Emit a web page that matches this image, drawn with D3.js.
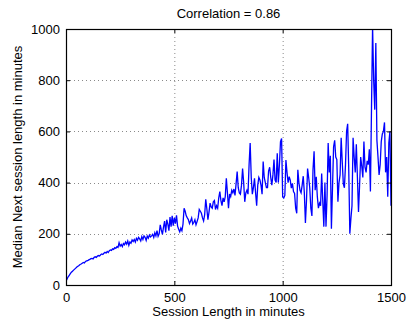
<!DOCTYPE html>
<html>
<head>
<meta charset="utf-8">
<script src="https://cdn.jsdelivr.net/npm/d3@7"></script>
<style>
  html, body { margin: 0; padding: 0; background: #fff; }
  svg { display: block; font-family: "Liberation Sans", Arial, Helvetica, sans-serif; }
</style>
</head>
<body>
<svg id="chart" width="408" height="325"></svg>
<script>
// Session length (minutes), sampled every 5 minutes from 0 to 1500
const sessionLength = d3.range(0, 1501, 5);

// Median length of the next session (minutes), one value per sample above
const medianNext = [
  // 0 - 95
  15,24,32,38,44,50,54,58,62,66,70,73,76,80,82,85,88,86,92,94,
  // 100 - 195
  95,98,100,103,104,102,108,110,108,113,115,113,118,121,119,124,128,125,131,127,
  // 200 - 295
  134,137,135,141,139,146,143,150,147,165,152,158,150,162,157,168,160,172,155,168,
  // 300 - 395
  163,176,170,178,168,182,175,186,180,172,189,178,192,186,174,191,183,195,188,192,
  // 400 - 495
  198,186,204,192,212,190,200,235,215,198,226,250,205,255,238,212,265,228,270,232,
  // 500 - 595
  262,240,272,230,218,208,222,212,238,300,288,270,262,255,240,250,262,238,244,255,
  // 600 - 695
  235,248,262,295,288,280,262,250,275,335,298,255,285,320,305,300,325,330,295,310,
  // 700 - 795
  300,340,365,330,310,340,325,345,417,360,300,355,345,370,360,375,350,395,443,380,
  // 800 - 895
  360,355,390,455,400,325,360,370,355,470,555,420,355,380,417,360,310,390,420,410,
  // 900 - 995
  390,355,482,420,400,380,380,445,460,420,390,430,490,410,400,515,400,470,560,572,
  // 1000 - 1095
  345,340,350,488,440,400,423,410,378,397,365,358,300,280,450,400,370,360,390,425,
  // 1100 - 1195
  360,242,330,455,420,380,300,270,450,522,370,423,345,300,320,310,435,330,228,400,
  // 1200 - 1295
  228,350,555,440,505,220,380,540,565,500,490,325,400,430,575,480,395,380,470,600,
  // 1300 - 1395
  630,450,200,260,310,575,500,440,550,420,285,390,500,465,420,560,460,440,485,470,
  // 1400 - 1500
  530,365,690,1010,800,685,945,565,500,430,470,560,590,600,635,440,500,345,555,600,
  310
];

const xTicks = [0, 500, 1000, 1500];
const yTicks = [0, 200, 400, 600, 800, 1000];

const titleText = "Correlation = 0.86";
const xLabel = "Session Length in minutes";
const yLabel = "Median Next session length in minutes";

const data = sessionLength.map((x, i) => ({ x, y: medianNext[i] }));

const svg = d3.select("#chart");
const margin = { left: 66, right: 17, top: 29, bottom: 40 };
const W = 408, H = 325;
const plotW = W - margin.left - margin.right;
const plotH = H - margin.top - margin.bottom;

const x = d3.scaleLinear().domain([0, 1500]).range([0, plotW]);
const y = d3.scaleLinear().domain([0, 1000]).range([plotH, 0]);

const g = svg.append("g").attr("transform", `translate(${margin.left},${margin.top})`);

// dotted grid
g.append("g").selectAll("line").data(xTicks.slice(1, -1)).join("line")
  .attr("x1", d => x(d) + 0.5).attr("x2", d => x(d) + 0.5)
  .attr("y1", 0).attr("y2", plotH)
  .attr("stroke", "#8a8a8a").attr("stroke-width", 1).attr("stroke-dasharray", "1,3");
g.append("g").selectAll("line").data(yTicks.slice(1, -1)).join("line")
  .attr("y1", d => Math.round(y(d)) + 0.5).attr("y2", d => Math.round(y(d)) + 0.5)
  .attr("x1", 0).attr("x2", plotW)
  .attr("stroke", "#8a8a8a").attr("stroke-width", 1).attr("stroke-dasharray", "1,3");

// data line, clipped to the axes box
svg.append("defs").append("clipPath").attr("id", "plotClip")
  .append("rect").attr("x", 0).attr("y", 0).attr("width", plotW).attr("height", plotH);

const line = d3.line().x(d => x(d.x)).y(d => y(d.y));
g.append("path")
  .datum(data)
  .attr("clip-path", "url(#plotClip)")
  .attr("fill", "none")
  .attr("stroke", "#0000ff")
  .attr("stroke-width", 1.3)
  .attr("stroke-linejoin", "miter")
  .attr("d", line);

// axes with inward ticks on all four sides
const tickLen = 4;
const bottomAxis = d3.axisBottom(x).tickValues(xTicks).tickSize(-tickLen).tickPadding(8).tickFormat(d3.format("d"));
const leftAxis = d3.axisLeft(y).tickValues(yTicks).tickSize(-tickLen).tickPadding(6).tickFormat(d3.format("d"));
const topAxis = d3.axisTop(x).tickValues(xTicks).tickSize(-tickLen).tickFormat("");
const rightAxis = d3.axisRight(y).tickValues(yTicks).tickSize(-tickLen).tickFormat("");

function styleAxis(sel) {
  sel.select(".domain").remove();
  sel.selectAll(".tick line").attr("stroke", "#000");
  sel.selectAll(".tick text").attr("fill", "#000").attr("font-size", 13)
    .attr("font-family", "'Liberation Sans', Arial, Helvetica, sans-serif");
}
g.append("g").attr("transform", `translate(0,${plotH})`).call(bottomAxis).call(styleAxis);
g.append("g").call(leftAxis).call(styleAxis);
g.append("g").call(topAxis).call(styleAxis);
g.append("g").attr("transform", `translate(${plotW},0)`).call(rightAxis).call(styleAxis);

// axes box
g.append("rect")
  .attr("x", 0.5).attr("y", 0.5).attr("width", plotW).attr("height", plotH)
  .attr("fill", "none").attr("stroke", "#000").attr("stroke-width", 1.2);

// title and axis labels
svg.append("text")
  .attr("x", margin.left + plotW / 2).attr("y", 18)
  .attr("text-anchor", "middle").attr("font-size", 13).attr("fill", "#000")
  .text(titleText);

svg.append("text")
  .attr("x", margin.left + plotW / 2).attr("y", 316)
  .attr("text-anchor", "middle").attr("font-size", 13).attr("fill", "#000")
  .text(xLabel);

svg.append("text")
  .attr("transform", `translate(22,${margin.top + plotH / 2}) rotate(-90)`)
  .attr("text-anchor", "middle").attr("font-size", 13).attr("fill", "#000")
  .text(yLabel);
</script>
</body>
</html>
